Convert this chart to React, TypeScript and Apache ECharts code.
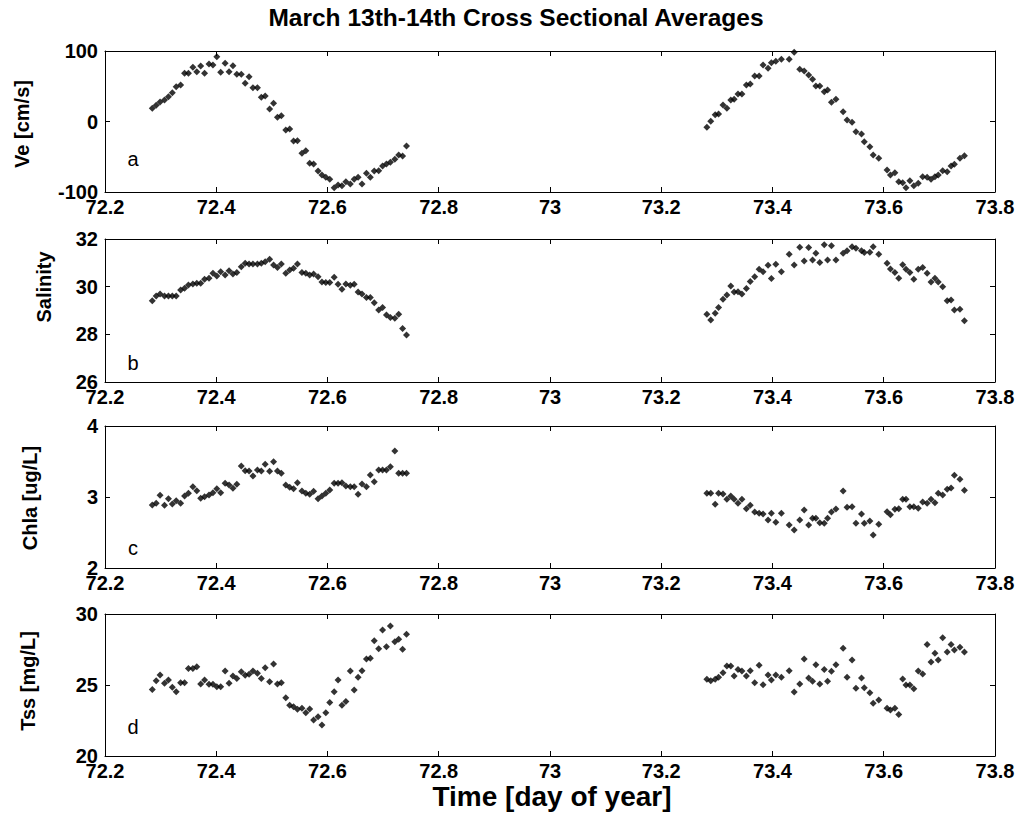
import React, { useEffect, useRef } from "react";
import * as echarts from "echarts";

// Sampling times (day of year)
const seg1Time = [
  72.285, 72.292, 72.299, 72.307, 72.314, 72.321, 72.328, 72.336, 72.343, 72.350,
  72.358, 72.365, 72.372, 72.379, 72.387, 72.394, 72.401, 72.408, 72.416, 72.423,
  72.430, 72.437, 72.445, 72.452, 72.459, 72.466, 72.474, 72.481, 72.488, 72.496,
  72.503, 72.510, 72.517, 72.525, 72.532, 72.539, 72.546, 72.554, 72.561, 72.568,
  72.575, 72.583, 72.590, 72.597, 72.604, 72.612, 72.619, 72.626, 72.633, 72.641,
  72.648, 72.655, 72.662, 72.670, 72.677, 72.684, 72.692, 72.699, 72.706, 72.713,
  72.721, 72.728, 72.735, 72.742,
];
const seg2Time = [
  73.282, 73.289, 73.297, 73.303, 73.311, 73.318, 73.325, 73.331, 73.338, 73.345,
  73.353, 73.360, 73.368, 73.376, 73.383, 73.392, 73.398, 73.406, 73.416,
  73.430, 73.439, 73.449, 73.457, 73.465, 73.472, 73.478, 73.485, 73.493, 73.499,
  73.506, 73.514,
  73.527, 73.534, 73.543, 73.550, 73.560, 73.565, 73.575, 73.581, 73.591,
  73.606, 73.612, 73.620, 73.627, 73.634, 73.640, 73.647, 73.654, 73.662, 73.670,
  73.678, 73.685, 73.692, 73.698, 73.706, 73.714, 73.721, 73.727, 73.737, 73.745,
];

// Panel a: Ve [cm/s]
const veSeg1 = [
  18.7, 22.9, 27.7, 30.5, 35.2, 40.9, 49.4, 51.8, 68.3, 68.3,
  76.8, 70.7, 78.7, 68.3, 81.6, 80.1, 92.0, 69.7, 82.5, 70.7,
  79.2, 66.9, 66.9, 54.1, 63.6, 48.0, 48.0, 34.3, 36.2, 17.7,
  25.8, 5.9, 8.3, -12.0, -10.6, -27.7, -27.2, -45.2, -41.4, -59.3,
  -60.3, -70.2, -75.9, -79.2, -82.0, -93.9, -90.1, -91.0, -85.3, -88.7,
  -82.0, -79.2, -88.7, -73.5, -79.2, -70.2, -69.7, -63.1, -60.3, -57.9,
  -53.7, -47.5, -48.9, -34.8,
];
const veSeg2 = [
  -8.3, 0.2, 9.7, 10.6, 23.4, 18.7, 30.5, 31.4, 39.0, 39.0,
  51.8, 53.2, 64.5, 64.5, 80.1, 75.4, 83.4, 85.3, 88.2,
  88.2, 98.1, 74.0, 71.6, 66.0, 59.8, 50.4, 50.4, 42.3, 44.7,
  27.2, 31.4,
  14.0, 2.1, -1.2, -14.4, -17.7, -28.6, -35.7, -47.5, -52.2,
  -68.8, -75.9, -72.6, -85.3, -86.8, -93.9, -83.9, -91.0, -87.7, -78.2,
  -79.2, -82.0, -78.2, -75.9, -69.7, -71.2, -63.1, -60.8, -52.2, -48.5,
];

// Panel b: Salinity
const salSeg1 = [
  29.41, 29.61, 29.69, 29.61, 29.61, 29.61, 29.61, 29.86, 29.93, 30.07,
  30.11, 30.14, 30.14, 30.31, 30.35, 30.56, 30.45, 30.63, 30.49, 30.67,
  30.53, 30.59, 30.84, 30.98, 30.95, 30.95, 30.95, 30.98, 31.05, 31.15,
  30.91, 30.80, 30.95, 30.56, 30.70, 30.77, 30.95, 30.59, 30.56, 30.49,
  30.53, 30.42, 30.20, 30.17, 30.17, 30.39, 30.10, 29.89, 30.11, 30.06,
  30.10, 29.78, 29.69, 29.55, 29.55, 29.33, 29.02, 29.13, 28.81, 28.71,
  28.67, 28.84, 28.25, 27.97,
];
const salSeg2 = [
  28.84, 28.60, 28.88, 29.13, 29.47, 29.65, 30.03, 29.78, 29.79, 29.69,
  29.92, 30.22, 30.42, 30.73, 30.63, 30.90, 30.34, 30.94, 30.63,
  31.36, 30.91, 31.65, 31.08, 31.64, 31.12, 31.40, 31.01, 31.76, 31.12,
  31.72, 31.12,
  31.40, 31.51, 31.68, 31.61, 31.51, 31.43, 31.44, 31.68, 31.36,
  30.98, 30.74, 30.59, 30.35, 30.92, 30.73, 30.59, 30.31, 30.73, 30.80,
  30.56, 30.20, 30.35, 30.20, 30.00, 29.41, 29.44, 29.02, 29.05, 28.57,
];

// Panel c: Chla [ug/L]
const chlaSeg1 = [
  2.887, 2.911, 3.023, 2.883, 2.977, 2.901, 2.948, 2.911, 3.014, 3.052,
  3.146, 3.089, 2.981, 3.005, 3.028, 3.061, 3.117, 3.061, 3.192, 3.169,
  3.122, 3.178, 3.437, 3.371, 3.366, 3.296, 3.380, 3.366, 3.460, 3.362,
  3.498, 3.366, 3.333, 3.169, 3.136, 3.117, 3.202, 3.084, 3.052, 3.038,
  3.080, 2.977, 3.014, 3.052, 3.099, 3.192, 3.192, 3.202, 3.155, 3.146,
  3.146, 3.038, 3.183, 3.146, 3.310, 3.216, 3.380, 3.380, 3.380, 3.427,
  3.648, 3.333, 3.333, 3.333,
];
const chlaSeg2 = [
  3.052, 3.052, 2.897, 3.052, 3.042, 2.967, 3.014, 2.967, 2.911, 2.967,
  2.836, 2.883, 2.789, 2.770, 2.761, 2.676, 2.770, 2.643, 2.770,
  2.606, 2.535, 2.676, 2.817, 2.606, 2.700, 2.700, 2.638, 2.629, 2.700,
  2.789, 2.831,
  3.085, 2.854, 2.864, 2.629, 2.761, 2.629, 2.662, 2.465, 2.615,
  2.793, 2.751, 2.826, 2.836, 2.967, 2.967, 2.864, 2.864, 2.840, 2.930,
  2.911, 2.967, 2.920, 3.052, 3.028, 3.108, 3.127, 3.305, 3.249, 3.094,
];

// Panel d: Tss [mg/L]
const tssSeg1 = [
  24.69, 25.30, 25.70, 25.12, 25.35, 24.84, 24.53, 25.16, 25.16, 26.17,
  26.17, 26.29, 25.07, 25.35, 25.05, 25.05, 24.88, 24.88, 25.99, 25.12,
  25.63, 25.45, 25.94, 25.68, 25.75, 25.99, 25.82, 25.45, 26.22, 25.23,
  26.48, 25.07, 25.16, 24.11, 23.57, 23.47, 23.29, 23.36, 23.05, 23.31,
  22.54, 22.77, 22.18, 23.05, 23.76, 24.53, 25.35, 23.57, 23.83, 25.99,
  24.65, 25.54, 26.01, 26.83, 26.88, 28.12, 27.56, 28.87, 27.70, 29.16,
  28.05, 28.22, 27.51, 28.57,
];
const tssSeg2 = [
  25.40, 25.30, 25.40, 25.54, 25.87, 26.34, 26.34, 25.63, 26.10, 25.99,
  25.63, 26.01, 25.16, 26.39, 25.02, 25.70, 25.35, 25.70, 25.54,
  26.01, 24.51, 25.07, 26.83, 25.49, 25.26, 26.43, 25.07, 26.10, 25.26,
  25.96, 26.43,
  27.58, 25.54, 26.76, 24.77, 25.49, 24.81, 24.46, 23.71, 23.94,
  23.36, 23.24, 23.36, 22.93, 25.42, 25.00, 25.00, 24.74, 25.99, 25.77,
  27.86, 26.62, 27.23, 26.76, 28.33, 27.32, 27.86, 27.47, 27.65, 27.32,
];

const yNames = ["Ve [cm/s]", "Salinity", "Chla [ug/L]", "Tss [mg/L]"];
const panelLetters = ["a", "b", "c", "d"];
const yMin = [-100, 26, 2, 20];
const yMax = [100, 32, 4, 30];
const yStep = [100, 2, 1, 5];
const xMin = 72.2;
const xMax = 73.8;
const xStep = 0.2;
const titleText = "March 13th-14th Cross Sectional Averages";
const xName = "Time [day of year]";

const FONT = "'Liberation Sans', Arial, Helvetica, sans-serif";

export default function App() {
  const ref = useRef<HTMLDivElement>(null);

  useEffect(() => {
    if (!ref.current) return;
    const chart = echarts.init(ref.current, null, { renderer: "svg" });

    const seg1 = [veSeg1, salSeg1, chlaSeg1, tssSeg1];
    const seg2 = [veSeg2, salSeg2, chlaSeg2, tssSeg2];

    const gridTops = [51, 239, 426, 614];
    const gridHeights = [141, 143, 142, 142];
    const yLabelX = [22, 44, 30, 28];
    const yLabelY = [124, 287, 498, 681];
    const letterY = [159, 363, 548, 727];

    const grids = gridTops.map((top, i) => ({
      left: 105,
      right: 23,
      top,
      height: gridHeights[i],
      containLabel: false,
    }));

    const axisLine = { show: true, onZero: false, lineStyle: { color: "#000", width: 1 } };
    const tick = { show: true, inside: true, length: 5, lineStyle: { color: "#000", width: 1 } };
    const labelStyle = { color: "#000", fontFamily: FONT, fontWeight: "bold" as const, fontSize: 20 };

    const xAxes: any[] = [];
    const yAxes: any[] = [];
    for (let i = 0; i < 4; i++) {
      xAxes.push({
        type: "value",
        gridIndex: i,
        position: "bottom",
        min: xMin,
        max: xMax,
        interval: xStep,
        axisLine,
        axisTick: tick,
        splitLine: { show: false },
        axisLabel: {
          ...labelStyle,
          margin: 5,
          formatter: (v: number) => String(Math.round(v * 10) / 10),
        },
      });
      xAxes.push({
        type: "value",
        gridIndex: i,
        position: "top",
        min: xMin,
        max: xMax,
        interval: xStep,
        axisLine,
        axisTick: tick,
        splitLine: { show: false },
        axisLabel: { show: false },
      });
      yAxes.push({
        type: "value",
        gridIndex: i,
        position: "left",
        min: yMin[i],
        max: yMax[i],
        interval: yStep[i],
        axisLine,
        axisTick: tick,
        splitLine: { show: false },
        axisLabel: { ...labelStyle, margin: 7 },
      });
      yAxes.push({
        type: "value",
        gridIndex: i,
        position: "right",
        min: yMin[i],
        max: yMax[i],
        interval: yStep[i],
        axisLine,
        axisTick: tick,
        splitLine: { show: false },
        axisLabel: { show: false },
      });
    }

    const series = seg1.map((vals1, i) => ({
      type: "scatter",
      xAxisIndex: i * 2,
      yAxisIndex: i * 2,
      symbol: "diamond",
      symbolSize: 7,
      itemStyle: { color: "#000" },
      silent: true,
      data: [
        ...seg1Time.map((t, k) => [t, vals1[k]]),
        ...seg2Time.map((t, k) => [t, seg2[i][k]]),
      ],
    }));

    const graphics: any[] = [
      {
        type: "text",
        x: 516,
        y: 17,
        style: {
          text: titleText,
          fill: "#000",
          font: `bold 24.5px ${FONT}`,
          align: "center",
          verticalAlign: "middle",
        },
      },
      {
        type: "text",
        x: 552,
        y: 796,
        style: {
          text: xName,
          fill: "#000",
          font: `bold 28px ${FONT}`,
          align: "center",
          verticalAlign: "middle",
        },
      },
    ];
    for (let i = 0; i < 4; i++) {
      graphics.push({
        type: "text",
        x: yLabelX[i],
        y: yLabelY[i],
        rotation: Math.PI / 2,
        style: {
          text: yNames[i],
          fill: "#000",
          font: `bold 20px ${FONT}`,
          align: "center",
          verticalAlign: "middle",
        },
      });
      graphics.push({
        type: "text",
        x: 133,
        y: letterY[i],
        style: {
          text: panelLetters[i],
          fill: "#000",
          font: `20px ${FONT}`,
          align: "center",
          verticalAlign: "middle",
        },
      });
    }

    chart.setOption({
      animation: false,
      backgroundColor: "#fff",
      grid: grids,
      xAxis: xAxes,
      yAxis: yAxes,
      series,
      graphic: graphics,
    });

    return () => chart.dispose();
  }, []);

  return (
    <div
      ref={ref}
      style={{ position: "absolute", left: 0, top: 0, width: 1018, height: 832, background: "#fff" }}
    />
  );
}
